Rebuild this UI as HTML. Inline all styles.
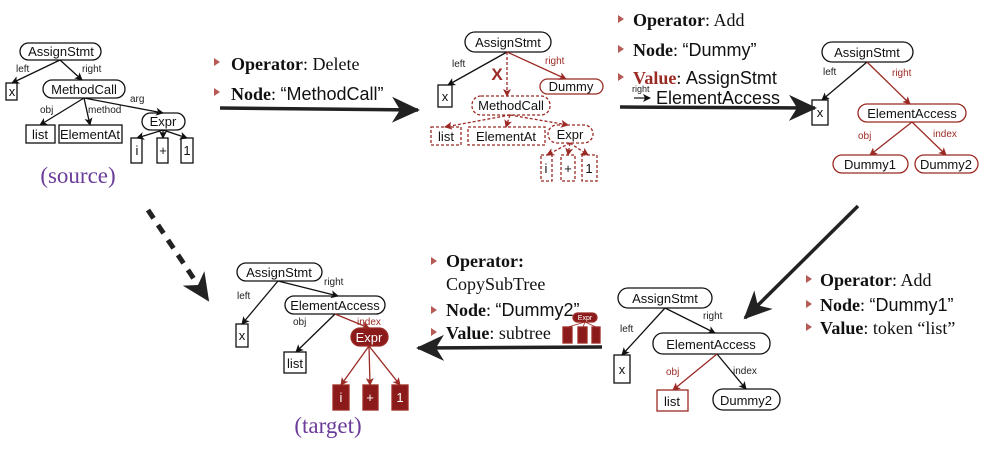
<!DOCTYPE html>
<html><head><meta charset="utf-8"><style>
body{margin:0;background:#fff}
svg{display:block}
.s{font-family:"Liberation Sans",sans-serif;font-size:13px;fill:#111}
.l{font-family:"Liberation Sans",sans-serif;font-size:10px;fill:#222}
.r{fill:#9b2a24}
.t{font-family:"Liberation Serif",serif;font-size:18px;fill:#111}
.b{font-weight:bold}
</style></head><body>
<svg width="991" height="454" viewBox="0 0 991 454" xmlns="http://www.w3.org/2000/svg">
<defs>
<marker id="ak" markerWidth="8" markerHeight="8" refX="7" refY="4" orient="auto" markerUnits="userSpaceOnUse"><path d="M0,0 L8,4 L0,8 L2,4z" fill="#111"/></marker>
<marker id="ar" markerWidth="8" markerHeight="8" refX="7" refY="4" orient="auto" markerUnits="userSpaceOnUse"><path d="M0,0 L8,4 L0,8 L2,4z" fill="#9b2a24"/></marker>
<marker id="big" markerWidth="30" markerHeight="26" refX="26" refY="13" orient="auto" markerUnits="userSpaceOnUse"><path d="M0,0 L28,13 L0,26 L8,13z" fill="#222"/></marker>
</defs>
<g stroke="#111" fill="none" stroke-width="1.3">
<rect x="20" y="43" width="81" height="17" rx="8.5"/>
<rect x="6" y="83" width="11" height="17"/>
<rect x="43" y="80" width="82" height="18" rx="9"/>
<rect x="142" y="113" width="43" height="17" rx="8.5"/>
<rect x="26" y="125" width="29" height="18"/>
<rect x="59" y="125" width="63" height="18"/>
<rect x="131" y="138" width="11" height="25"/>
<rect x="157" y="138" width="11" height="25"/>
<rect x="181" y="138" width="12" height="25"/>
<line x1="60" y1="60" x2="12" y2="83" marker-end="url(#ak)"/>
<line x1="60" y1="60" x2="82" y2="80" marker-end="url(#ak)"/>
<line x1="84" y1="98" x2="40" y2="125" marker-end="url(#ak)"/>
<line x1="84" y1="98" x2="90" y2="125" marker-end="url(#ak)"/>
<line x1="84" y1="98" x2="163" y2="113" marker-end="url(#ak)"/>
<line x1="163" y1="130" x2="137" y2="138" marker-end="url(#ak)"/>
<line x1="163" y1="130" x2="163" y2="138" marker-end="url(#ak)"/>
<line x1="163" y1="130" x2="187" y2="138" marker-end="url(#ak)"/>
<rect x="465" y="32" width="86" height="20" rx="10"/>
<rect x="438" y="85" width="14" height="22"/>
<line x1="507" y1="52" x2="448" y2="85" marker-end="url(#ak)"/>
</g>
<g stroke="#9b2a24" fill="none" stroke-width="1.3">
<rect x="540" y="79" width="63" height="15" rx="7.5"/>
<line x1="507" y1="52" x2="566" y2="79" marker-end="url(#ar)"/>
<g stroke-dasharray="3,2">
<rect x="472" y="96" width="78" height="19" rx="9"/>
<rect x="431" y="127" width="30" height="18"/>
<rect x="468" y="127" width="77" height="18"/>
<rect x="548" y="125" width="45" height="18" rx="9"/>
<rect x="541" y="155" width="11" height="26"/>
<rect x="561" y="155" width="14" height="26"/>
<rect x="582" y="155" width="15" height="26"/>
<line x1="507" y1="52" x2="507" y2="96" marker-end="url(#ar)"/>
<line x1="510" y1="115" x2="445" y2="127" marker-end="url(#ar)"/>
<line x1="510" y1="115" x2="506" y2="127" marker-end="url(#ar)"/>
<line x1="510" y1="115" x2="568" y2="125" marker-end="url(#ar)"/>
<line x1="570" y1="143" x2="547" y2="155" marker-end="url(#ar)"/>
<line x1="570" y1="143" x2="568" y2="155" marker-end="url(#ar)"/>
<line x1="570" y1="143" x2="588" y2="155" marker-end="url(#ar)"/>
</g>
</g>
<g stroke="#111" fill="none" stroke-width="1.3">
<rect x="822" y="42" width="91" height="20" rx="10"/>
<rect x="812" y="100" width="16" height="25"/>
<line x1="867" y1="62" x2="822" y2="100" marker-end="url(#ak)"/>
</g>
<g stroke="#9b2a24" fill="none" stroke-width="1.3">
<rect x="858" y="104" width="108" height="18" rx="9"/>
<rect x="833" y="155" width="75" height="18" rx="9"/>
<rect x="915" y="155" width="63" height="18" rx="9"/>
<line x1="867" y1="62" x2="910" y2="104" marker-end="url(#ar)"/>
<line x1="912" y1="122" x2="870" y2="155" marker-end="url(#ar)"/>
<line x1="912" y1="122" x2="946" y2="155" marker-end="url(#ar)"/>
</g>
<g stroke="#111" fill="none" stroke-width="1.3">
<rect x="618" y="288" width="94" height="20" rx="10"/>
<rect x="614" y="355" width="16" height="28"/>
<rect x="653" y="333" width="117" height="21" rx="10"/>
<rect x="713" y="389" width="67" height="21" rx="10"/>
<line x1="665" y1="308" x2="622" y2="355" marker-end="url(#ak)"/>
<line x1="665" y1="308" x2="715" y2="333" marker-end="url(#ak)"/>
<line x1="717" y1="354" x2="746" y2="389" marker-end="url(#ak)"/>
</g>
<g stroke="#9b2a24" fill="none" stroke-width="1.3">
<rect x="657" y="390" width="31" height="21"/>
<line x1="717" y1="354" x2="673" y2="390" marker-end="url(#ar)"/>
</g>
<g stroke="#111" fill="none" stroke-width="1.3">
<rect x="237" y="263" width="85" height="18" rx="9"/>
<rect x="236" y="324" width="12" height="23"/>
<rect x="285" y="296" width="100" height="18" rx="9"/>
<rect x="284" y="352" width="22" height="21"/>
<line x1="278" y1="281" x2="338" y2="296" marker-end="url(#ak)"/>
<line x1="278" y1="281" x2="242" y2="324" marker-end="url(#ak)"/>
<line x1="335" y1="314" x2="296" y2="352" marker-end="url(#ak)"/>
</g>
<g stroke="#9b2a24" stroke-width="1.3" fill="#8b1a1a">
<line x1="335" y1="314" x2="369" y2="328" marker-end="url(#ar)"/>
<rect x="351" y="328" width="37" height="18" rx="9"/>
<line x1="369" y1="346" x2="341" y2="385" marker-end="url(#ar)"/>
<line x1="369" y1="346" x2="370" y2="385" marker-end="url(#ar)"/>
<line x1="369" y1="346" x2="400" y2="385" marker-end="url(#ar)"/>
<rect x="333" y="385" width="16" height="25"/>
<rect x="363" y="385" width="15" height="25"/>
<rect x="392" y="385" width="16" height="25"/>
<rect x="573" y="313" width="24" height="9" rx="4.5"/>
<rect x="563" y="327" width="9" height="16"/>
<rect x="578" y="327" width="9" height="16"/>
<rect x="592" y="327" width="8" height="16"/>
<line x1="585" y1="322" x2="568" y2="327" stroke-width="0.8"/>
<line x1="585" y1="322" x2="583" y2="327" stroke-width="0.8"/>
<line x1="585" y1="322" x2="596" y2="327" stroke-width="0.8"/>
</g>
<g stroke="#222" stroke-width="3.5" fill="none">
<line x1="220" y1="108" x2="418" y2="110" marker-end="url(#big)"/>
<line x1="620" y1="107" x2="815" y2="108" marker-end="url(#big)"/>
<line x1="858" y1="206" x2="745" y2="318" marker-end="url(#big)"/>
<line x1="602" y1="347" x2="418" y2="348" marker-end="url(#big)"/>
<line x1="148" y1="210" x2="208" y2="300" stroke-dasharray="10,8" stroke-width="5" marker-end="url(#big)"/>
</g>
<g class="s" text-anchor="middle">
<text x="61" y="56">AssignStmt</text><text x="12" y="96">x</text>
<text x="84" y="94">MethodCall</text><text x="163" y="126">Expr</text>
<text x="40" y="139">list</text><text x="90" y="139">ElementAt</text>
<text x="137" y="155">i</text><text x="163" y="155">+</text><text x="187" y="155">1</text>
<text x="508" y="47">AssignStmt</text><text x="445" y="101">x</text>
<text x="571" y="91">Dummy</text><text x="511" y="110">MethodCall</text>
<text x="446" y="141">list</text><text x="506" y="141">ElementAt</text><text x="570" y="139">Expr</text>
<text x="546" y="173">i</text><text x="568" y="173">+</text><text x="589" y="173">1</text>
<text x="867" y="57">AssignStmt</text><text x="820" y="117">x</text>
<text x="912" y="118">ElementAccess</text><text x="870" y="169">Dummy1</text><text x="946" y="169">Dummy2</text>
<text x="665" y="303">AssignStmt</text><text x="622" y="374">x</text>
<text x="711" y="349">ElementAccess</text><text x="746" y="405">Dummy2</text><text x="672" y="406">list</text>
<text x="279" y="277">AssignStmt</text><text x="242" y="340">x</text>
<text x="335" y="310">ElementAccess</text><text x="295" y="368">list</text>
</g>
<g class="s" text-anchor="middle" style="fill:#fff">
<text x="369" y="342">Expr</text><text x="341" y="402">i</text><text x="370" y="402">+</text><text x="400" y="402">1</text>
<text x="585" y="320" style="font-size:7px">Expr</text>
</g>
<g class="l">
<text x="16" y="72">left</text><text x="82" y="72">right</text>
<text x="40" y="113">obj</text><text x="88" y="113">method</text><text x="130" y="102">arg</text>
<text x="452" y="67">left</text><text x="545" y="64" class="r">right</text>
<text x="823" y="75">left</text><text x="892" y="76" class="r">right</text>
<text x="858" y="139" class="r">obj</text><text x="933" y="137" class="r">index</text>
<text x="620" y="332">left</text><text x="703" y="319">right</text>
<text x="666" y="375" class="r">obj</text><text x="733" y="374">index</text>
<text x="324" y="285">right</text><text x="237" y="299">left</text>
<text x="293" y="325">obj</text><text x="357" y="325" class="r">index</text>
</g>
<text x="497" y="80" class="b" style="font-family:Liberation Sans;font-size:17px;fill:#9b2a24" text-anchor="middle">X</text>
<g fill="#b55a55">
<path d="M214,58 l6,4 l-6,4z"/><path d="M214,88 l6,4 l-6,4z"/>
<path d="M618,15 l6,4 l-6,4z"/><path d="M618,45 l6,4 l-6,4z"/><path d="M618,73 l6,4 l-6,4z"/>
<path d="M806,275 l6,4 l-6,4z"/><path d="M806,300 l6,4 l-6,4z"/><path d="M806,323 l6,4 l-6,4z"/>
<path d="M431,257 l6,4 l-6,4z"/><path d="M431,306 l6,4 l-6,4z"/><path d="M431,328 l6,4 l-6,4z"/>
</g>
<g class="t">
<text x="231" y="70"><tspan class="b">Operator</tspan>: Delete</text>
<text x="231" y="100"><tspan class="b">Node</tspan>: <tspan style="font-family:Liberation Sans">“MethodCall”</tspan></text>
<text x="633" y="26"><tspan class="b">Operator</tspan>: Add</text>
<text x="633" y="56"><tspan class="b">Node</tspan>: <tspan style="font-family:Liberation Sans">“Dummy”</tspan></text>
<text x="633" y="84"><tspan class="b" style="fill:#9b2a24">Value</tspan>: <tspan style="font-family:Liberation Sans">AssignStmt</tspan></text>
<text x="656" y="104" style="font-family:Liberation Sans">ElementAccess</text>
<text x="820" y="286"><tspan class="b">Operator</tspan>: Add</text>
<text x="820" y="311"><tspan class="b">Node</tspan>: <tspan style="font-family:Liberation Sans">“Dummy1”</tspan></text>
<text x="820" y="334"><tspan class="b">Value</tspan>: token “list”</text>
<text x="446" y="267" class="b">Operator:</text>
<text x="446" y="290">CopySubTree</text>
<text x="446" y="316"><tspan class="b">Node</tspan>: <tspan style="font-family:Liberation Sans">“Dummy2”</tspan></text>
<text x="446" y="339"><tspan class="b">Value</tspan>: subtree</text>
</g>
<text x="632" y="92" class="l" style="font-size:9px">right</text>
<path d="M634,98 h16" stroke="#111" stroke-width="1.2" marker-end="url(#ak)"/>
<text x="78" y="183" style="font-family:Liberation Serif;font-size:23px;fill:#6b3b9a" text-anchor="middle">(source)</text>
<text x="328" y="433" style="font-family:Liberation Serif;font-size:23px;fill:#6b3b9a" text-anchor="middle">(target)</text>
</svg>
</body></html>
